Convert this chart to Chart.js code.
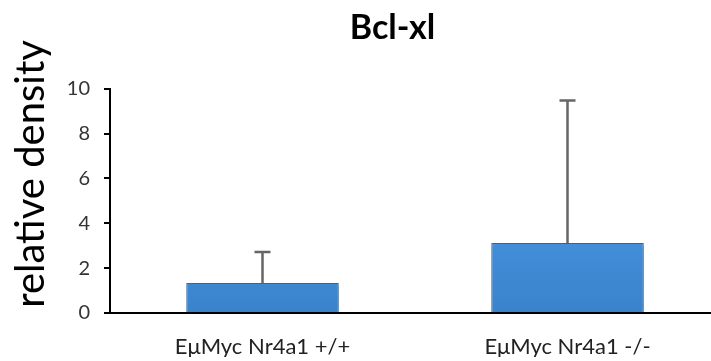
<!DOCTYPE html>
<html>
<head>
<meta charset="utf-8">
<script src="https://cdn.jsdelivr.net/npm/chart.js@4/dist/chart.umd.min.js"></script>
<style>
  html, body { margin: 0; padding: 0; background: #fff; overflow: hidden; }
  #wrap { width: 730px; height: 361px; position: relative; }
</style>
</head>
<body>
<div id="wrap"><canvas id="bclChart"></canvas></div>
<script>
// data
const categories = ['EμMyc Nr4a1 +/+', 'EμMyc Nr4a1 -/-'];
const density = [1.34, 3.12];
const densitySD = [1.38, 6.36];
const yTicks = [0, 2, 4, 6, 8, 10];

const FONT = 'Lato, "Open Sans", sans-serif';

// upward-only error bars with a cap
const errorBars = {
  id: 'errorBars',
  afterDatasetsDraw(chart) {
    const ctx = chart.ctx;
    const meta = chart.getDatasetMeta(0);
    const y = chart.scales.y;
    ctx.save();
    ctx.strokeStyle = '#666666';
    ctx.lineWidth = 2.5;
    meta.data.forEach((bar, i) => {
      const top = y.getPixelForValue(density[i] + densitySD[i]);
      ctx.beginPath();
      ctx.moveTo(bar.x, bar.y);
      ctx.lineTo(bar.x, top);
      ctx.moveTo(bar.x - 8, top);
      ctx.lineTo(bar.x + 8, top);
      ctx.stroke();
    });
    ctx.restore();
  }
};

// soft shadow under the bars
const barShadow = {
  id: 'barShadow',
  beforeDatasetsDraw(chart) {
    const ctx = chart.ctx;
    ctx.save();
    ctx.shadowColor = 'rgba(0,0,0,0.25)';
    ctx.shadowBlur = 6;
    ctx.shadowOffsetX = 3;
    ctx.shadowOffsetY = 1;
  },
  afterDatasetsDraw(chart) {
    chart.ctx.restore();
  }
};

// y axis title sits higher than the plot centre in the original
const yTitle = {
  id: 'yTitle',
  afterDraw(chart) {
    const ctx = chart.ctx;
    ctx.save();
    ctx.translate(31, 174);
    ctx.rotate(-Math.PI / 2);
    ctx.font = '40px ' + FONT;
    ctx.fillStyle = '#000';
    ctx.textAlign = 'center';
    ctx.textBaseline = 'middle';
    ctx.fillText('relative density', 0, 0);
    ctx.restore();
  }
};

function barFill(context) {
  const chart = context.chart;
  const area = chart.chartArea;
  if (!area) return '#4595e0';
  const el = context.element;
  const top = el && el.y != null ? el.y : area.top;
  const bottom = chart.scales.y.getPixelForValue(0);
  const g = chart.ctx.createLinearGradient(0, top, 0, bottom);
  g.addColorStop(0, '#8ccaf7');
  g.addColorStop(0.06, '#5aa9ec');
  g.addColorStop(0.5, '#4795df');
  g.addColorStop(1, '#3a82cc');
  return g;
}

new Chart(document.getElementById('bclChart'), {
  type: 'bar',
  data: {
    labels: categories,
    datasets: [{
      label: 'relative density',
      data: density,
      backgroundColor: barFill,
      borderColor: '#2f6fb3',
      borderWidth: 1,
      categoryPercentage: 1,
      barPercentage: 0.5
    }]
  },
  options: {
    responsive: true,
    maintainAspectRatio: false,
    animation: false,
    layout: { padding: { left: 65, right: 10, top: 0, bottom: 4 } },
    plugins: {
      legend: { display: false },
      tooltip: { enabled: false },
      title: {
        display: true,
        text: 'Bcl-xl',
        color: '#000',
        font: { family: FONT, size: 34, weight: 'bold' },
        padding: { top: 8, bottom: 40 }
      }
    },
    scales: {
      x: {
        afterFit: s => { s.height = 44; },
        grid: { display: false, drawTicks: false },
        border: { display: true, color: '#000', width: 2 },
        ticks: {
          color: '#222',
          font: { family: FONT, size: 22 },
          padding: 21,
          maxRotation: 0
        }
      },
      y: {
        min: 0,
        max: 10,
        afterBuildTicks: s => { s.ticks = yTicks.map(v => ({ value: v })); },
        afterFit: s => { s.width = 45; },
        grid: { drawOnChartArea: false, drawTicks: true, tickLength: 6, color: '#000', lineWidth: 2 },
        border: { display: true, color: '#000', width: 2 },
        ticks: {
          color: '#333',
          font: { family: FONT, size: 20 },
          padding: 14
        }
      }
    }
  },
  plugins: [barShadow, errorBars, yTitle]
});
</script>
</body>
</html>
